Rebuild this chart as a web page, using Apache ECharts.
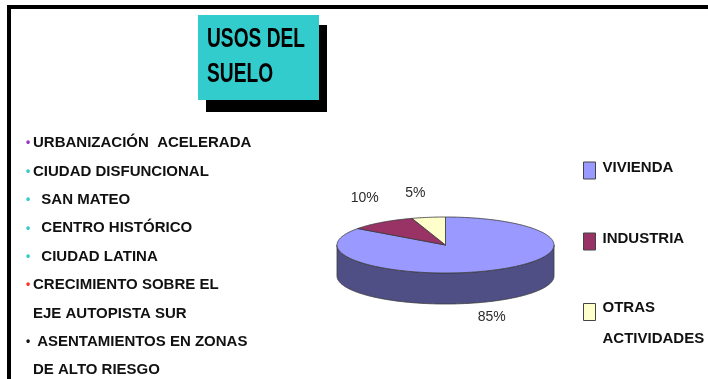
<!DOCTYPE html>
<html>
<head>
<meta charset="utf-8">
<script src="https://cdn.jsdelivr.net/npm/echarts@6/dist/echarts.min.js"></script>
<style>
  html, body { margin: 0; padding: 0; background: #ffffff; }
  #chart { width: 708px; height: 379px; }
</style>
</head>
<body>
<div id="chart"></div>
<script>
// Land-use shares (percent) shown as a tilted 3D pie
const categories = ['VIVIENDA', 'INDUSTRIA', 'OTRAS ACTIVIDADES'];
const shares = [85, 10, 5];

// Slide heading and bullet list
const titleLines = ['USOS DEL', 'SUELO'];
const listLines = [
  'URBANIZACIÓN  ACELERADA',
  'CIUDAD DISFUNCIONAL',
  '  SAN MATEO',
  '  CENTRO HISTÓRICO',
  '  CIUDAD LATINA',
  'CRECIMIENTO SOBRE EL',
  'EJE AUTOPISTA SUR',
  ' ASENTAMIENTOS EN ZONAS',
  'DE ALTO RIESGO'
];

// ---- styling ----
const FONT = '"Liberation Sans", Arial, sans-serif';
const topColors = ['#9999FF', '#993366', '#FFFFCC'];
const sideColors = ['#4F4F86', '#4D1A33', '#80806A'];
const bulletColors = ['#9933CC', '#33CCCC', '#33CCCC', '#33CCCC', '#33CCCC', '#FF3333', null, '#111111', null];
const EDGE = '#3a3a3a';

// pie geometry (pixels)
const CX = 445.5, CY = 245, RX = 108.5, RY = 28, DEPTH = 31;
const TAU = Math.PI * 2;
const total = shares.reduce((a, b) => a + b, 0);

function arc(a, b, dy) {
  const n = Math.max(2, Math.ceil((b - a) / (Math.PI / 180)));
  const out = [];
  for (let k = 0; k <= n; k++) {
    const t = a + (b - a) * k / n;
    out.push([CX + RX * Math.sin(t), CY - RY * Math.cos(t) + dy]);
  }
  return out;
}

function sliceRenderer(i) {
  return function (params, api) {
    const v = api.value(0);
    const before = shares.slice(0, i).reduce((a, b) => a + b, 0);
    const a0 = before / total * TAU;
    const a1 = (before + v) / total * TAU;
    const children = [];
    // visible outer wall: the part of the slice on the near half of the ellipse
    const fa = Math.max(a0, Math.PI / 2), fb = Math.min(a1, Math.PI * 1.5);
    if (fb > fa) {
      const top = arc(fa, fb, 0);
      const bottom = arc(fa, fb, DEPTH).reverse();
      children.push({
        type: 'polygon', z2: 1,
        shape: { points: top.concat(bottom) },
        style: { fill: sideColors[i], stroke: EDGE, lineWidth: 0.8 }
      });
    }
    // top face
    children.push({
      type: 'polygon', z2: 5,
      shape: { points: [[CX, CY]].concat(arc(a0, a1, 0)) },
      style: { fill: topColors[i], stroke: EDGE, lineWidth: 0.8, lineJoin: 'round' }
    });
    // percentage label
    const mid = (a0 + a1) / 2;
    const s = Math.sin(mid), c = -Math.cos(mid);
    const front = c > 0;
    const px = CX + RX * s, py = CY + RY * c + (front ? DEPTH : 0);
    children.push({
      type: 'text', z2: 10,
      x: px - 3, y: py + (front ? 9 : -17),
      style: {
        text: Math.round(v / total * 100) + '%',
        font: '14px ' + FONT,
        fill: '#2b2b2b',
        align: s < 0 ? 'right' : 'center',
        verticalAlign: front ? 'top' : 'bottom'
      }
    });
    return { type: 'group', children };
  };
}

// static slide decorations: frame, heading box, bullet list
const graphics = [
  { type: 'rect', z: 0, shape: { x: 9, y: 7, width: 760, height: 420 },
    style: { fill: 'transparent', stroke: '#000', lineWidth: 4 } },
  { type: 'rect', z: 1, shape: { x: 206, y: 25, width: 121, height: 87 }, style: { fill: '#000' } },
  { type: 'rect', z: 2, shape: { x: 198, y: 15, width: 121, height: 85 }, style: { fill: '#33CCCC' } }
];
titleLines.forEach((t, k) => {
  graphics.push({
    type: 'text', z: 3, x: 207, y: 39 + k * 35, scaleX: 0.685,
    style: { text: t, font: 'bold 28px ' + FONT, fill: '#000', verticalAlign: 'middle' }
  });
});
listLines.forEach((t, k) => {
  const y = 143 + k * 28.4;
  if (bulletColors[k]) {
    graphics.push({
      type: 'text', z: 3, x: 28, y: y,
      style: { text: '•', font: 'bold 12px ' + FONT, fill: bulletColors[k], align: 'center', verticalAlign: 'middle' }
    });
  }
  graphics.push({
    type: 'text', z: 3, x: 33, y: y,
    style: { text: t, font: 'bold 15px ' + FONT, fill: '#111', verticalAlign: 'middle' }
  });
});

// legend labels: single-line names sit a little above the swatch centre,
// the two-line name starts level with its swatch
function legendLabel(name) {
  const words = name.split(' ');
  if (words.length === 1) return '{t|' + name + '}\n{gap| }';
  return '{pre| }\n' + words.map(w => '{w|' + w + '}').join('\n');
}
const legendTops = [160, 231, 278];

const chart = echarts.init(document.getElementById('chart'), null, { renderer: 'canvas' });
chart.setOption({
  backgroundColor: '#ffffff',
  animation: false,
  graphic: graphics,
  legend: categories.map((name, i) => ({
    data: [name],
    left: 583, top: legendTops[i], padding: 0,
    orient: 'vertical', icon: 'rect', itemWidth: 12, itemHeight: 17,
    selectedMode: false,
    itemStyle: { borderColor: '#444', borderWidth: 1 },
    textStyle: {
      fontFamily: FONT, fontWeight: 'bold', fontSize: 15, color: '#111',
      rich: {
        t: { fontFamily: FONT, fontWeight: 'bold', fontSize: 15, color: '#111', lineHeight: 17, padding: [0, 0, 0, 2] },
        gap: { fontSize: 5, lineHeight: 6 },
        pre: { fontSize: 6, lineHeight: 23 },
        w: { fontFamily: FONT, fontWeight: 'bold', fontSize: 15, color: '#111', lineHeight: 31, padding: [0, 0, 0, 2] }
      }
    },
    formatter: legendLabel
  })),
  series: categories.map((name, i) => ({
    type: 'custom',
    name,
    coordinateSystem: 'none',
    itemStyle: { color: topColors[i] },
    renderItem: sliceRenderer(i),
    data: [shares[i]]
  }))
});
</script>
</body>
</html>
